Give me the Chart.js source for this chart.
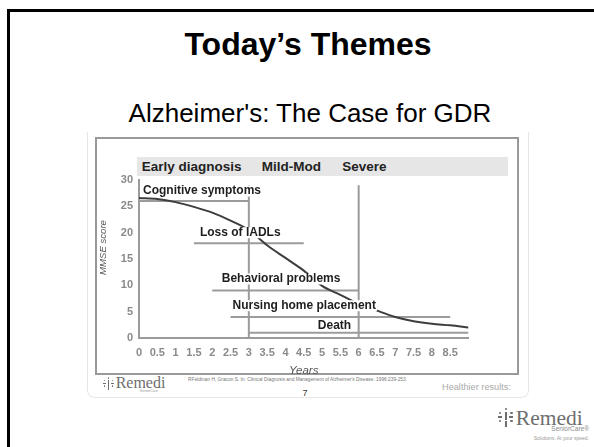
<!DOCTYPE html>
<html>
<head>
<meta charset="utf-8">
<script src="https://cdn.jsdelivr.net/npm/chart.js@4.4.1/dist/chart.umd.min.js"></script>
<style>
  html, body { margin: 0; padding: 0; background: #fff; }
  body { width: 594px; height: 447px; overflow: hidden; position: relative; font-family: "Liberation Sans", Arial, sans-serif; }
  .abs { position: absolute; white-space: nowrap; line-height: 1; }
  #slideBorder { position: absolute; left: 7px; top: 9px; width: 700px; height: 600px; border: 3px solid #000; box-sizing: border-box; }
  #outerFrame { position: absolute; left: 87px; top: 132px; width: 442px; height: 266px; border: 1px solid #e6e6e6; border-top: none; border-radius: 0 0 8px 8px; box-sizing: border-box; }
  #innerBox { position: absolute; left: 95px; top: 137px; width: 424px; height: 238px; border: 2px solid #999; box-sizing: border-box; }
  #phaseBand { position: absolute; left: 137px; top: 157px; width: 371px; height: 19px; background: #e6e6e6; }
  #chart { position: absolute; left: 0; top: 0; }
  .bar { position: absolute; background: #6e6e6e; }
  .dot { position: absolute; background: #6e6e6e; border-radius: 50%; }
</style>
</head>
<body>
<div id="slideBorder"></div>
<div id="outerFrame"></div>
<div id="innerBox"></div>
<div id="phaseBand"></div>
<div id="texts"></div>
<canvas id="chart" width="594" height="447"></canvas>
<script>
const years = [0, 0.5, 1, 1.5, 2, 2.5, 3, 3.5, 4, 4.5, 5, 5.5, 6, 6.5, 7, 7.5, 8, 8.5, 9];
const mmseScore = [26.6, 26.4, 25.8, 24.9, 23.8, 22.3, 20.5, 17.6, 15.2, 12.8, 9.9, 8.2, 6.5, 5.2, 4.0, 3.2, 2.7, 2.4, 2.0];

const stageNames = ["Cognitive symptoms", "Loss of IADLs", "Behavioral problems", "Nursing home placement", "Death"];
const stageFrom = [0, 1.5, 2, 2.5, 3];
const stageTo = [3, 4.5, 6, 8.5, 9];
const stageScore = [26, 18, 9, 4, 1];

const phaseNames = ["Early diagnosis", "Mild-Mod", "Severe"];
const phaseEdges = [3, 6];
const phaseEdgeTop = 29;

const xTickValues = [0, 0.5, 1, 1.5, 2, 2.5, 3, 3.5, 4, 4.5, 5, 5.5, 6, 6.5, 7, 7.5, 8, 8.5];
const yTickValues = [0, 5, 10, 15, 20, 25, 30];

const FONT = "Liberation Sans";
const lineGray = "#9b9b9b";

// page text, placed by baseline
const texts = document.getElementById("texts");
function put(text, x, baseline, size, css, align) {
  const el = document.createElement("div");
  el.className = "abs";
  el.textContent = text;
  el.style.fontSize = size + "px";
  el.style.top = (baseline - 0.8465 * size) + "px";
  el.style.cssText += css || "";
  if (align === "center") {
    el.style.left = (x - 300) + "px";
    el.style.width = "600px";
    el.style.textAlign = "center";
  } else if (align === "right") {
    el.style.left = (x - 300) + "px";
    el.style.width = "300px";
    el.style.textAlign = "right";
  } else {
    el.style.left = x + "px";
  }
  texts.appendChild(el);
}

put("Today\u2019s Themes", 308, 55, 32, "font-weight:bold;color:#000;", "center");
put("Alzheimer's: The Case for GDR", 310, 122, 26, "color:#000;", "center");

const phaseX = [141.7, 261.7, 342.3];
phaseNames.forEach((n, i) => put(n, phaseX[i], 171.5, 13.5, "font-weight:bold;color:#222;"));

put("RFeldman H, Gracon S. In: Clinical Diagnosis and Management of Alzheimer's Disease. 1996:239-253.",
  188, 382.5, 4.8, "color:#777;");
put("7", 305, 397, 9, "color:#333;", "center");
put("Healthier results:", 442, 391, 9.2, "color:#aaa;");

function logo(x, y, s, word, wordSize, wordBase) {
  const parts = [
    ["dot", 4.2, 0, 1.6, 1.6], ["bar", 4.5, 2.4, 1.1, 5.5], ["bar", 4.5, 8.6, 1.1, 3.4],
    ["dot", 0.6, 2.4, 1.5, 1.5], ["bar", 0, 5.2, 2.8, 1.1], ["dot", 0.6, 7.6, 1.5, 1.5],
    ["dot", 7.9, 2.4, 1.5, 1.5], ["bar", 7.2, 5.2, 2.8, 1.1], ["dot", 7.9, 7.6, 1.5, 1.5]
  ];
  parts.forEach(p => {
    const el = document.createElement("div");
    el.className = p[0];
    el.style.left = (x + p[1] * s) + "px";
    el.style.top = (y + p[2] * s) + "px";
    el.style.width = (p[3] * s) + "px";
    el.style.height = (p[4] * s) + "px";
    texts.appendChild(el);
  });
  put(word, x + 11.5 * s, wordBase, wordSize, "font-family:'Liberation Serif','DejaVu Serif',serif;color:#6e6e6e;");
}
logo(103, 377, 1.1, "Remedi", 16, 389);
put("SeniorCare", 158, 393, 3.6, "color:#999;", "right");
logo(498, 408, 1.55, "Remedi", 21.5, 426);
put("SeniorCare\u00ae", 589, 432, 6.5, "color:#8a8a8a;", "right");
put("Solutions. At your speed.", 589, 440, 5, "color:#999;", "right");

// stage captions sit on their lines, masking the curve behind them
const labelOffsets = [[4, 10], [6, 10.5], [9.5, 11.6], [2, 11.2], [69, 7]];
const stageLabelPlugin = {
  id: "stageLabels",
  afterDatasetsDraw(chart) {
    const { ctx, scales: { x, y } } = chart;
    ctx.save();
    ctx.font = "bold 12px " + FONT;
    ctx.textBaseline = "middle";
    stageNames.forEach((name, i) => {
      const lx = x.getPixelForValue(stageFrom[i]) + labelOffsets[i][0];
      const ly = y.getPixelForValue(stageScore[i]) - labelOffsets[i][1];
      const w = ctx.measureText(name).width;
      ctx.fillStyle = "#fff";
      ctx.fillRect(lx - 1, ly - 5.5, w + 2, 11);
      ctx.fillStyle = "#1e1e1e";
      ctx.fillText(name, lx, ly);
    });
    // y axis title
    ctx.translate(103, 247.5);
    ctx.rotate(-Math.PI / 2);
    ctx.font = "italic 9.6px " + FONT;
    ctx.fillStyle = "#555";
    ctx.textAlign = "center";
    ctx.fillText("MMSE score", 0, 0);
    ctx.restore();
  }
};

const datasets = [{
  data: years.map((yr, i) => ({ x: yr, y: mmseScore[i] })),
  borderColor: "#3d3d3d",
  borderWidth: 2,
  cubicInterpolationMode: "monotone"
}];
stageNames.forEach((n, i) => {
  datasets.push({
    data: [{ x: stageFrom[i], y: stageScore[i] }, { x: stageTo[i], y: stageScore[i] }],
    borderColor: lineGray,
    borderWidth: 2
  });
});
phaseEdges.forEach(px => {
  datasets.push({
    data: [{ x: px, y: 0 }, { x: px, y: phaseEdgeTop }],
    borderColor: lineGray,
    borderWidth: 2
  });
});
datasets.forEach(d => { d.showLine = true; d.pointRadius = 0; d.fill = false; });

new Chart(document.getElementById("chart"), {
  type: "scatter",
  data: { datasets },
  options: {
    responsive: false,
    animation: false,
    devicePixelRatio: 1,
    layout: { padding: { left: 95, top: 180, right: 125.5, bottom: 65.4 } },
    plugins: { legend: { display: false }, tooltip: { enabled: false } },
    scales: {
      x: {
        type: "linear",
        min: 0,
        max: 9,
        afterBuildTicks: s => { s.ticks = xTickValues.map(v => ({ value: v })); },
        afterFit: s => { s.height = 43.6; },
        grid: { display: false, drawTicks: false },
        border: { display: true, color: lineGray, width: 2 },
        ticks: {
          padding: 8,
          autoSkip: false,
          maxRotation: 0,
          color: "#8a8a8a",
          font: { family: FONT, size: 11, weight: "bold" },
          callback: v => String(v)
        },
        title: {
          display: true,
          text: "Years",
          color: "#555",
          font: { family: FONT, size: 11.5, style: "italic" },
          padding: { top: 0, bottom: 4 }
        }
      },
      y: {
        min: 0,
        max: 30,
        afterBuildTicks: s => { s.ticks = yTickValues.map(v => ({ value: v })); },
        afterFit: s => { s.width = 44; },
        grid: { display: false, drawTicks: false },
        border: { display: true, color: lineGray, width: 2 },
        ticks: {
          padding: 6,
          color: "#8a8a8a",
          font: { family: FONT, size: 11, weight: "bold" },
          callback: v => String(v)
        }
      }
    }
  },
  plugins: [stageLabelPlugin]
});
</script>
</body>
</html>
